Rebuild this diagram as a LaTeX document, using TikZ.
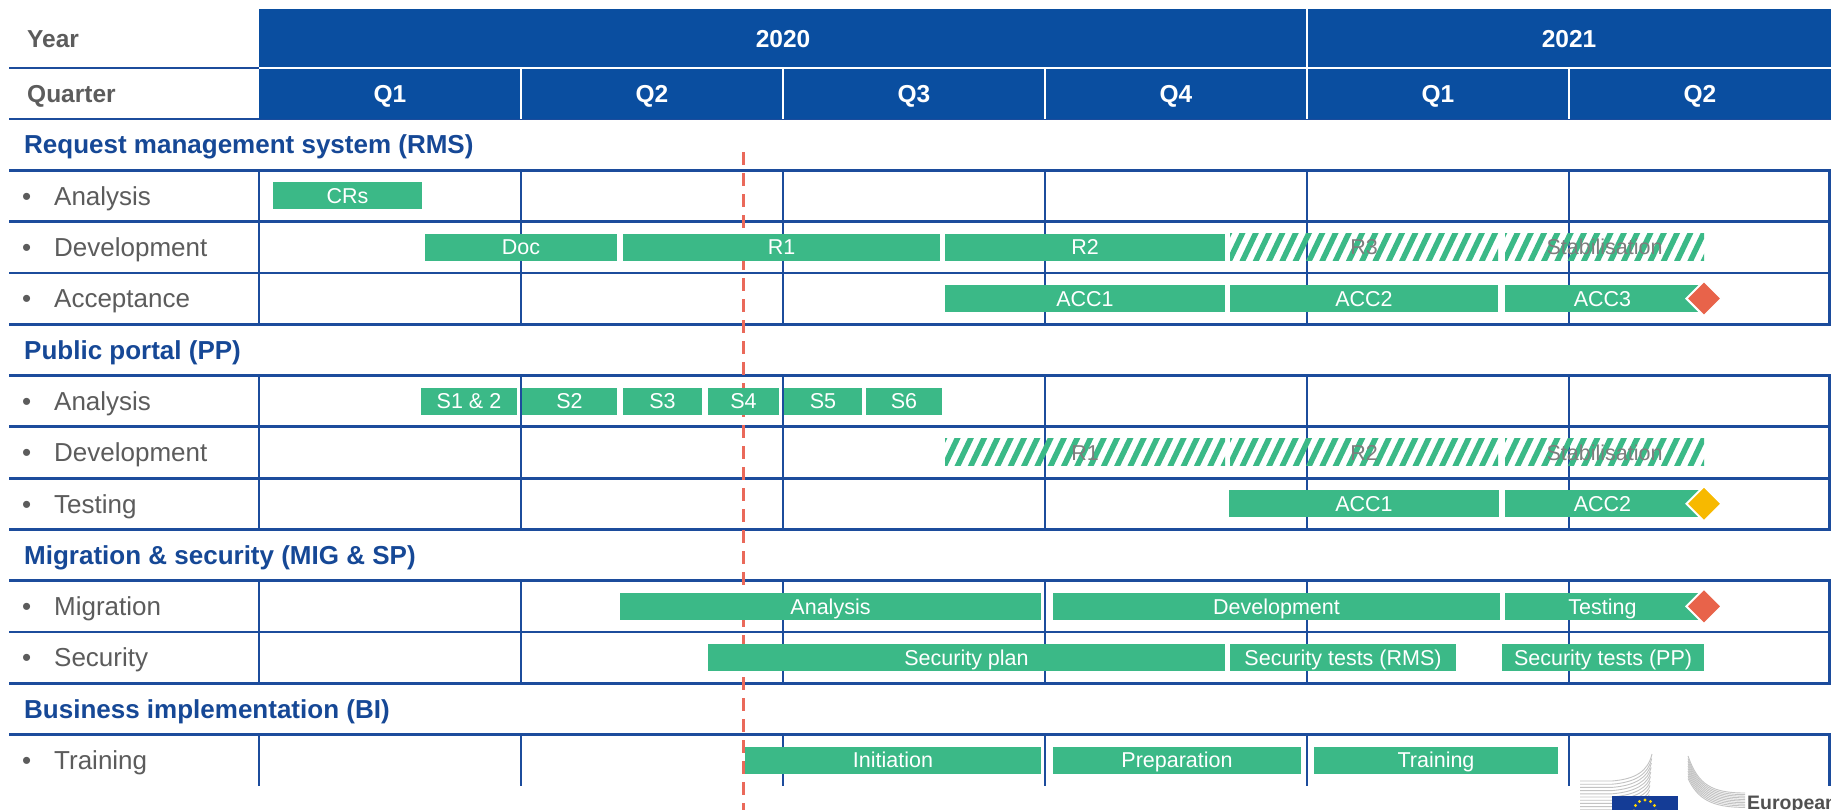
\documentclass[tikz,border=0pt]{standalone}
\usepackage{fontspec}
\setmainfont{Liberation Sans}
\usetikzlibrary{shapes.geometric}
\definecolor{hblue}{RGB}{10,78,160}
\definecolor{gridblue}{RGB}{28,76,156}
\definecolor{secblue}{RGB}{22,72,150}
\definecolor{txtgray}{RGB}{92,92,92}
\definecolor{bargreen}{RGB}{59,185,135}
\definecolor{hatchgray}{RGB}{125,125,125}
\definecolor{msred}{RGB}{232,99,74}
\definecolor{msyellow}{RGB}{247,185,0}
\definecolor{reddash}{RGB}{234,105,90}
\definecolor{eublue}{RGB}{20,60,150}
\definecolor{euyellow}{RGB}{255,214,0}
\definecolor{logogray}{RGB}{195,195,195}
\definecolor{logotext}{RGB}{80,80,80}

\newcommand\rowc[1]{\pgfmathsetmacro\yc{119+51.3*(#1+0.5)}}
\newcommand\greenbar[5]{\rowc{#2}\pgfmathsetmacro\xc{(#3+#4)/2}\pgfmathsetmacro\bw{#4-#3}\node[gbar,minimum width=\bw pt] (#1) at (\xc,\yc) {#5};}
\newcommand\hatchbar[5]{\rowc{#2}\pgfmathsetmacro\xc{(#3+#4)/2}\pgfmathsetmacro\bw{#4-#3}\node[hbarstyle,minimum width=\bw pt] (#1) at (\xc,\yc) {#5};}
\newcommand\milestone[4]{\rowc{#2}\node[msstyle,fill=#4] (#1) at (#3,\yc) {};}
\newcommand\tasklabel[3]{\rowc{#2}\node[task] (#1b) at (22,\yc) {•};\node[task] (#1) at (54,\yc) {#3};}
\newcommand\seclabel[3]{\rowc{#2}\node[sec] (#1) at (24,\yc) {#3};}

\tikzset{
  grid/.style={gridblue, line width=2.8pt},
  gbar/.style={rectangle, fill=bargreen, inner sep=0pt, minimum height=27pt, text=white,
    font=\fontsize{21.5}{22}\selectfont, text height=15.4pt, text depth=0pt},
  hbarstyle/.style={rectangle, inner sep=0pt, minimum height=27pt, text=hatchgray,
    font=\fontsize{21.5}{22}\selectfont, text height=15.4pt, text depth=0pt,
    path picture={\foreach \k in {0,...,26}{\draw[bargreen, line width=5.5pt]
      ([xshift=\k*13.3pt-15pt, yshift=-2pt]path picture bounding box.south west) -- ++(14.8pt,31pt);}}},
  msstyle/.style={diamond, aspect=1, draw=white, line width=2pt, minimum size=36pt, inner sep=0pt},
  hdr/.style={text=white, font=\bfseries\fontsize{24.5}{25}\selectfont, text height=17.5pt, text depth=0pt, inner sep=0pt},
  lefthdr/.style={text=txtgray, font=\bfseries\fontsize{24.5}{25}\selectfont, text height=17.5pt, text depth=0pt, inner sep=0pt, anchor=west},
  sec/.style={text=secblue, font=\bfseries\fontsize{26}{27}\selectfont, anchor=west, text height=18.6pt, text depth=0pt, inner sep=0pt},
  task/.style={text=txtgray, font=\fontsize{26}{27}\selectfont, anchor=west, text height=18.6pt, text depth=0pt, inner sep=0pt},
  reddashed/.style={reddash, line width=3pt, dash pattern=on 13pt off 8pt},
  logoline/.style={logogray, line width=0.9pt}
}

\begin{document}
\begin{tikzpicture}[x=1pt,y=-1pt]
\useasboundingbox (0,0) rectangle (1831,809);
\fill[white] (0,0) rectangle (1831,809);

% grid
\foreach \k in {0,...,12}{\pgfmathsetmacro\ya{119+51.3*\k}\draw[grid] (9,\ya) -- (1831,\ya);}
\draw[grid] (9,68) -- (259,68);
\foreach \k in {1,2,3,5,6,7,9,10,12}{%
  \pgfmathsetmacro\ya{119+51.3*\k}\pgfmathsetmacro\yb{119+51.3*(\k+1)}%
  \foreach \x in {259,521,783,1045,1307,1569,1829.5}{\draw[grid] (\x,\ya) -- (\x,\yb);}}

% today line
\coordinate (todaytop) at (743,152);
\coordinate (todaybot) at (743,815);
\draw[reddashed] (todaytop) -- (todaybot);

% RMS
\greenbar{crs}{1}{273}{422}{CRs}
\greenbar{doc}{2}{425}{617}{Doc}
\greenbar{rmsr1}{2}{623}{940}{R1}
\greenbar{rmsr2}{2}{945}{1225}{R2}
\hatchbar{rmsr3}{2}{1230}{1498}{R3}
\hatchbar{rmsstab}{2}{1505}{1704}{Stabilisation}
\greenbar{rmsacc1}{3}{945}{1225}{ACC1}
\greenbar{rmsacc2}{3}{1230}{1498}{ACC2}
\greenbar{rmsacc3}{3}{1505}{1700}{ACC3}
\milestone{rmsms}{3}{1704}{msred}

% PP
\greenbar{s12}{5}{421}{517}{S1 \& 2}
\greenbar{s2}{5}{522}{617}{S2}
\greenbar{s3}{5}{623}{702}{S3}
\greenbar{s4}{5}{708}{779}{S4}
\greenbar{s5}{5}{784}{862}{S5}
\greenbar{s6}{5}{866}{942}{S6}
\hatchbar{ppr1}{6}{945}{1225}{R1}
\hatchbar{ppr2}{6}{1230}{1498}{R2}
\hatchbar{ppstab}{6}{1505}{1704}{Stabilisation}
\greenbar{ppacc1}{7}{1229}{1499}{ACC1}
\greenbar{ppacc2}{7}{1505}{1700}{ACC2}
\milestone{ppms}{7}{1704}{msyellow}

% MIG & SP
\greenbar{miganal}{9}{620}{1041}{Analysis}
\greenbar{migdev}{9}{1053}{1500}{Development}
\greenbar{migtest}{9}{1505}{1700}{Testing}
\milestone{migms}{9}{1704}{msred}
\greenbar{secplan}{10}{708}{1225}{Security plan}
\greenbar{secrms}{10}{1230}{1456}{Security tests (RMS)}
\greenbar{secpp}{10}{1502}{1704}{Security tests (PP)}

% BI
\greenbar{init}{12}{745}{1041}{Initiation}
\greenbar{prep}{12}{1053}{1301}{Preparation}
\greenbar{train}{12}{1314}{1558}{Training}

% header
\fill[hblue] (259,9) rectangle (1831,119);
\draw[white, line width=2.5pt] (259,68) -- (1831,68);
\draw[white, line width=2.5pt] (1307,9) -- (1307,119);
\foreach \x in {521,783,1045,1569}{\draw[white, line width=2.5pt] (\x,68) -- (\x,119);}
\node[hdr] (y2020) at (783,38.5) {2020};
\node[hdr] (y2021) at (1569,38.5) {2021};
\node[hdr] (q1a) at (390,93.5) {Q1};
\node[hdr] (q2a) at (652,93.5) {Q2};
\node[hdr] (q3a) at (914,93.5) {Q3};
\node[hdr] (q4a) at (1176,93.5) {Q4};
\node[hdr] (q1b) at (1438,93.5) {Q1};
\node[hdr] (q2b) at (1700,93.5) {Q2};
\node[lefthdr] (year) at (27,38.5) {Year};
\node[lefthdr] (quarter) at (27,93.5) {Quarter};

% row labels
\seclabel{rms}{0}{Request management system (RMS)}
\tasklabel{rmsan}{1}{Analysis}
\tasklabel{rmsdv}{2}{Development}
\tasklabel{rmsac}{3}{Acceptance}
\seclabel{pp}{4}{Public portal (PP)}
\tasklabel{ppan}{5}{Analysis}
\tasklabel{ppdv}{6}{Development}
\tasklabel{ppts}{7}{Testing}
\seclabel{mig}{8}{Migration \& security (MIG \& SP)}
\tasklabel{migr}{9}{Migration}
\tasklabel{secu}{10}{Security}
\seclabel{bi}{11}{Business implementation (BI)}
\tasklabel{trn}{12}{Training}

% logo
\begin{scope}
\clip (0,0) rectangle (1831,809);
\foreach \i in {0,...,9}{%
  \pgfmathsetmacro\ly{781+3.2*\i}%
  \pgfmathsetmacro\ey{\ly-27+1.3*\i}%
  \draw[logoline] (1580,\ly) -- (1612,\ly) .. controls (1636,\ly-2) and (1648,\ly-10) .. (1652-0.3*\i,\ey);}
\foreach \i in {0,...,9}{%
  \pgfmathsetmacro\sy{756+2.5*\i}%
  \pgfmathsetmacro\ty{793+1.6*\i}%
  \draw[logoline] (1688,\sy) .. controls (1698,\ty-8) and (1712,\ty) .. (1745,\ty);}
\fill[eublue] (1612,796) rectangle (1678,815);
\foreach \a in {0,30,...,330}{\fill[euyellow] (1645,811) ++(\a:11pt) circle (1.6pt);}
\node[anchor=base west, inner sep=0pt, text=logotext, font=\bfseries\fontsize{19.5}{20}\selectfont] (eutext) at (1747,809) {European};
\end{scope}
\end{tikzpicture}
\end{document}
